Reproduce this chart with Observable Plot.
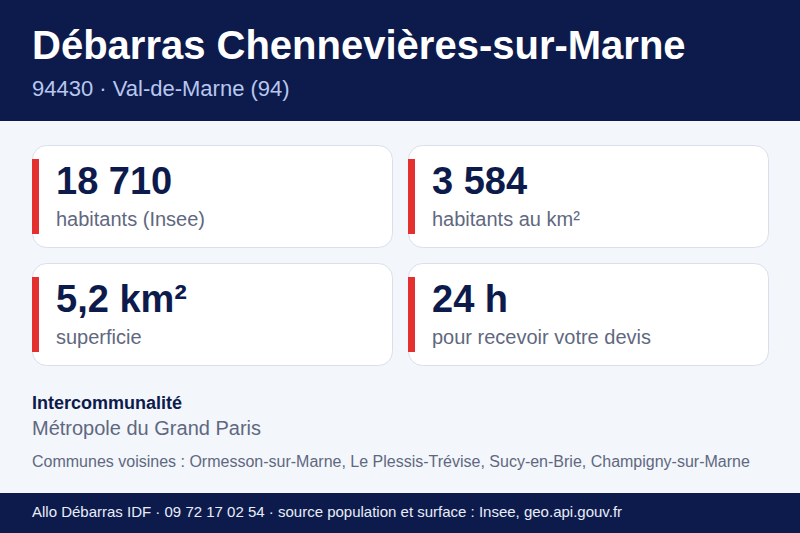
<!DOCTYPE html>
<html lang="fr">
<head>
<meta charset="utf-8">
<script src="https://cdn.jsdelivr.net/npm/d3@7"></script>
<script src="https://cdn.jsdelivr.net/npm/@observablehq/plot@0.6"></script>
<style>
html,body{margin:0;padding:0;width:800px;height:533px;overflow:hidden;background:#f3f6fb;font-family:"Liberation Sans",Arial,sans-serif}
header{height:121px;background:#0d1b4c;box-sizing:border-box;position:relative}
header h1{position:absolute;left:32px;top:22px;margin:0;font-size:40px;line-height:46px;font-weight:700;color:#fff;white-space:nowrap}
header p{position:absolute;left:32px;top:75px;margin:0;font-size:22px;line-height:28px;color:#b8c7ee;white-space:nowrap}
#chart{height:259px}
#chart svg{display:block}
.info{height:113px;position:relative}
.info div{position:absolute;left:32px;white-space:nowrap}
.t1{top:12px;font-size:18px;line-height:22px;font-weight:700;color:#0d1b4c}
.t2{top:35px;font-size:20px;line-height:26px;color:#5f6880}
.t3{top:71px;font-size:16px;line-height:22px;color:#5f6880}
footer{height:40px;background:#0d1b4c;color:#e8edf9;font-size:15px;line-height:38px;padding-left:32px;white-space:nowrap}
</style>
</head>
<body>
<header><h1 id="title"></h1><p id="sub"></p></header>
<div id="chart"></div>
<div class="info"><div class="t1" id="t1"></div><div class="t2" id="t2"></div><div class="t3" id="t3"></div></div>
<footer id="foot"></footer>
<script>
const titleText = "Débarras Chennevières-sur-Marne";
const subtitleText = "94430 · Val-de-Marne (94)";
const cardColumns = [0, 1, 0, 1];
const cardRows = [0, 0, 1, 1];
const cardValues = ["18 710", "3 584", "5,2 km²", "24 h"];
const cardLabels = ["habitants (Insee)", "habitants au km²", "superficie", "pour recevoir votre devis"];
const interTitle = "Intercommunalité";
const interName = "Métropole du Grand Paris";
const neighbours = "Communes voisines : Ormesson-sur-Marne, Le Plessis-Trévise, Sucy-en-Brie, Champigny-sur-Marne";
const footerText = "Allo Débarras IDF · 09 72 17 02 54 · source population et surface : Insee, geo.api.gouv.fr";

document.getElementById("title").textContent = titleText;
document.getElementById("sub").textContent = subtitleText;
document.getElementById("t1").textContent = interTitle;
document.getElementById("t2").textContent = interName;
document.getElementById("t3").textContent = neighbours;
document.getElementById("foot").textContent = footerText;

const cards = cardValues.map((v, i) => ({col: cardColumns[i], row: cardRows[i], value: v, label: cardLabels[i]}));
const navy = "#0d1b4c", red = "#e53030", grey = "#5f6880";
const chart = Plot.plot({
  width: 800, height: 259,
  margin: 0,
  style: {background: "transparent", fontFamily: '"Liberation Sans", Arial, sans-serif'},
  x: {type: "band", domain: [0, 1], range: [32.5, 768.5], paddingInner: 16/376, paddingOuter: 0, round: false, axis: null},
  y: {type: "band", domain: [0, 1], range: [24.5, 244.5], paddingInner: 16/118, paddingOuter: 0, round: false, axis: null},
  marks: [
    Plot.cell(cards, {x: "col", y: "row", fill: "#fff", stroke: "#d9dfea", strokeWidth: 1, rx: 14}),
    Plot.cell(cards, {x: "col", y: "row", fill: red, insetLeft: -0.5, insetRight: 353.5, insetTop: 13.5, insetBottom: 13.5}),
    Plot.text(cards, {x: "col", y: "row", text: "value", textAnchor: "start", dx: -157, dy: -15, fontSize: 38, fontWeight: 700, fill: navy}),
    Plot.text(cards, {x: "col", y: "row", text: "label", textAnchor: "start", dx: -157, dy: 22.5, fontSize: 20, fill: grey})
  ]
});
document.getElementById("chart").append(chart);
</script>
</body>
</html>
